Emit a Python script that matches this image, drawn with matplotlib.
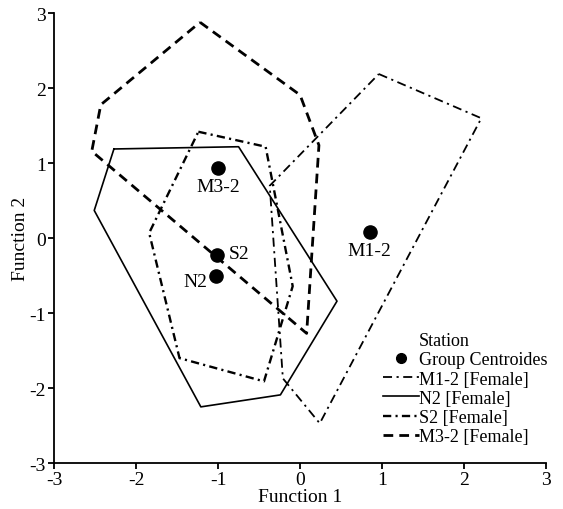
import matplotlib
matplotlib.use('Agg')
import matplotlib.pyplot as plt
from matplotlib.lines import Line2D

matplotlib.rcParams['font.family'] = 'serif'
matplotlib.rcParams['font.serif'] = ['Liberation Serif']
matplotlib.rcParams['font.size'] = 14
matplotlib.rcParams['axes.unicode_minus'] = False

# polygon vertices (Function 1, Function 2)
m1_x = [0.96, 2.21, 0.24, -0.21, -0.37]
m1_y = [2.19, 1.60, -2.47, -1.87, 0.70]
n2_x = [-2.27, -0.75, 0.45, -0.24, -1.21, -2.51]
n2_y = [1.19, 1.22, -0.84, -2.09, -2.25, 0.37]
s2_x = [-1.24, -0.42, -0.09, -0.44, -1.47, -1.84]
s2_y = [1.42, 1.22, -0.64, -1.91, -1.60, 0.07]
m3_x = [-1.22, 0.0, 0.23, 0.08, -2.54, -2.43]
m3_y = [2.88, 1.91, 1.24, -1.27, 1.16, 1.78]

# group centroids
cent_names = ['M1-2', 'N2', 'S2', 'M3-2']
cent_x = [0.85, -1.02, -1.01, -1.0]
cent_y = [0.08, -0.51, -0.23, 0.93]

ticks = [-3, -2, -1, 0, 1, 2, 3]

fig = plt.figure(figsize=(5.63, 5.10), dpi=100)
ax = fig.add_axes([0.096, 0.090, 0.874, 0.882])


def closed(xs, ys):
    return xs + xs[:1], ys + ys[:1]


styles = {
    'M1-2': dict(color='k', lw=1.3, linestyle=(0, (5, 2.5, 1.2, 2.5))),
    'N2': dict(color='k', lw=1.2, linestyle='-'),
    'S2': dict(color='k', lw=1.7, linestyle=(0, (3.5, 1.8, 0.9, 1.8))),
    'M3-2': dict(color='k', lw=2.0, linestyle=(0, (3.5, 2.2))),
}

for name, xs, ys in [('M1-2', m1_x, m1_y), ('N2', n2_x, n2_y),
                     ('S2', s2_x, s2_y), ('M3-2', m3_x, m3_y)]:
    px, py = closed(xs, ys)
    ax.plot(px, py, **styles[name])

ax.scatter(cent_x, cent_y, s=90, color='k', zorder=5)

label_pos = {
    'M1-2': (0.85, -0.05, 'center', 'top'),
    'N2': (-1.13, -0.58, 'right', 'center'),
    'S2': (-0.87, -0.20, 'left', 'center'),
    'M3-2': (-1.0, 0.80, 'center', 'top'),
}
for name, cx, cy in zip(cent_names, cent_x, cent_y):
    tx, ty, ha, va = label_pos[name]
    ax.text(tx, ty, name, ha=ha, va=va)

ax.set_xlim(-3, 3)
ax.set_ylim(-3, 3)
ax.set_xticks(ticks)
ax.set_yticks(ticks)
ax.spines['top'].set_visible(False)
ax.spines['right'].set_visible(False)
ax.spines['left'].set_linewidth(1.3)
ax.spines['bottom'].set_linewidth(1.3)
ax.tick_params(direction='out', length=4, width=1.3, pad=2)
ax.set_xlabel('Function 1', labelpad=0)
ax.set_ylabel('Function 2', labelpad=0)

handles = [
    Line2D([], [], linestyle='none'),
    Line2D([], [], linestyle='none', marker='o', color='k', markersize=7),
    Line2D([], [], **styles['M1-2']),
    Line2D([], [], **styles['N2']),
    Line2D([], [], **styles['S2']),
    Line2D([], [], **styles['M3-2']),
]
labels = ['Station', 'Group Centroides', 'M1-2 [Female]', 'N2 [Female]',
          'S2 [Female]', 'M3-2 [Female]']
ax.legend(handles, labels, loc='lower left', bbox_to_anchor=(0.65, 0.02),
          frameon=False, handlelength=2.0, handletextpad=0.0,
          labelspacing=0.12, borderpad=0.0, fontsize=13)

fig.savefig('out.png', dpi=100)
